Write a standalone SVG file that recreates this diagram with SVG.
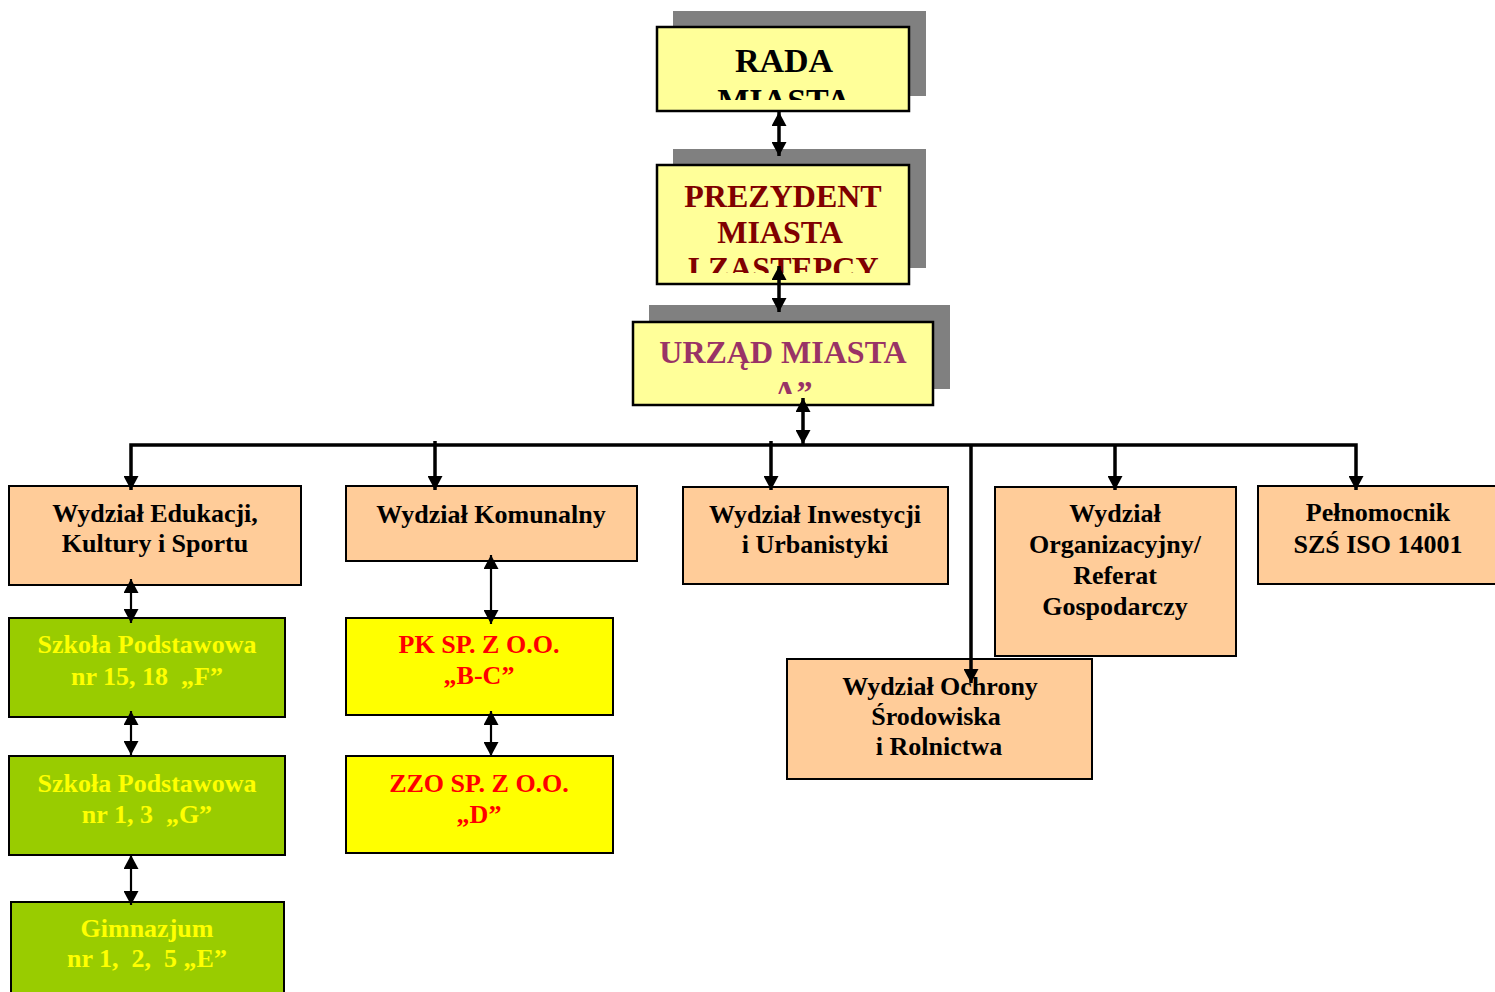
<svg xmlns="http://www.w3.org/2000/svg" width="1495" height="992" viewBox="0 0 1495 992" xml:space="preserve">
<style>
text{font-family:"Liberation Serif","Times New Roman",serif;font-weight:bold;text-anchor:middle;white-space:pre}
.shadow{fill:#808080}
.top{fill:#FFFF99;stroke:#000;stroke-width:2.5}
.dept{fill:#FFCC99;stroke:#000;stroke-width:2}
.green{fill:#99CC00;stroke:#000;stroke-width:2}
.yellow{fill:#FFFF00;stroke:#000;stroke-width:2}
.t26{font-size:26px;fill:#000}
.ty{font-size:26px;fill:#FFFF00}
.tr{font-size:26px;fill:#FF0000}
.conn{fill:none;stroke:#000}
.thick{stroke-width:3.5}
.thin{stroke-width:2.2}
</style>
<defs>
<marker id="ah" markerUnits="userSpaceOnUse" markerWidth="15" markerHeight="15" refX="14" refY="7.5" orient="auto-start-reverse" viewBox="0 0 15 15">
<path d="M0,0 L14,7.5 L0,15 z" fill="#000"/>
</marker>
<clipPath id="c1"><rect x="659" y="29" width="248" height="71"/></clipPath>
<clipPath id="c2"><rect x="659" y="167" width="248" height="106"/></clipPath>
<clipPath id="c3"><rect x="635" y="324" width="296" height="70"/></clipPath>
</defs>
<g id="rada">
<rect class="shadow" x="673" y="11" width="253" height="85"/>
<rect class="top" x="657" y="27" width="252" height="84"/>
<g clip-path="url(#c1)">
<text x="784" y="72" font-size="34" fill="#000">RADA</text>
<text x="784" y="112" font-size="34" fill="#000">MIASTA</text>
</g>
</g>
<g id="prezydent">
<rect class="shadow" x="673" y="149" width="253" height="119"/>
<rect class="top" x="657" y="165" width="252" height="119"/>
<g clip-path="url(#c2)" fill="#800000" font-size="32">
<text x="783" y="207">PREZYDENT</text>
<text x="780" y="243">MIASTA</text>
<text x="783" y="279">I ZASTĘPCY</text>
</g>
</g>
<g id="urzad">
<rect class="shadow" x="649" y="305" width="301" height="84"/>
<rect class="top" x="633" y="322" width="300" height="83"/>
<g clip-path="url(#c3)" fill="#993366" font-size="32">
<text x="783" y="363">URZĄD MIASTA</text>
<text x="785" y="403">„A”</text>
</g>
</g>
<g id="edukacji">
<rect class="dept" x="9" y="486" width="292" height="99"/>
<text class="t26" x="155" y="522">Wydział Edukacji,</text>
<text class="t26" x="155" y="552">Kultury i Sportu</text>
</g>
<g id="komunalny">
<rect class="dept" x="346" y="486" width="291" height="75"/>
<text class="t26" x="491" y="523">Wydział Komunalny</text>
</g>
<g id="inwestycji">
<rect class="dept" x="683" y="487" width="265" height="97"/>
<text class="t26" x="815" y="523">Wydział Inwestycji</text>
<text class="t26" x="815" y="553">i Urbanistyki</text>
</g>
<g id="organizacyjny">
<rect class="dept" x="995" y="487" width="241" height="169"/>
<text class="t26" x="1115" y="522">Wydział</text>
<text class="t26" x="1115" y="553">Organizacyjny/</text>
<text class="t26" x="1115" y="584">Referat</text>
<text class="t26" x="1115" y="615">Gospodarczy</text>
</g>
<g id="pelnomocnik">
<rect class="dept" x="1258" y="486" width="242" height="98"/>
<text class="t26" x="1378" y="521">Pełnomocnik</text>
<text class="t26" x="1378" y="553">SZŚ ISO 14001</text>
</g>
<g id="ochrony">
<rect class="dept" x="787" y="659" width="305" height="120"/>
<text class="t26" x="940" y="695">Wydział Ochrony</text>
<text class="t26" x="936" y="725">Środowiska</text>
<text class="t26" x="939" y="755">i Rolnictwa</text>
</g>
<g id="szkola1">
<rect class="green" x="9" y="618" width="276" height="99"/>
<text class="ty" x="147" y="653">Szkoła Podstawowa</text>
<text class="ty" x="147" y="685">nr 15, 18  „F”</text>
</g>
<g id="szkola2">
<rect class="green" x="9" y="756" width="276" height="99"/>
<text class="ty" x="147" y="792">Szkoła Podstawowa</text>
<text class="ty" x="147" y="823">nr 1, 3  „G”</text>
</g>
<g id="gimnazjum">
<rect class="green" x="11" y="902" width="273" height="100"/>
<text class="ty" x="147" y="937">Gimnazjum</text>
<text class="ty" x="147" y="967">nr 1,  2,  5 „E”</text>
</g>
<g id="pk">
<rect class="yellow" x="346" y="618" width="267" height="97"/>
<text class="tr" x="479" y="653">PK SP. Z O.O.</text>
<text class="tr" x="479" y="684">„B-C”</text>
</g>
<g id="zzo">
<rect class="yellow" x="346" y="756" width="267" height="97"/>
<text class="tr" x="479" y="792">ZZO SP. Z O.O.</text>
<text class="tr" x="479" y="823">„D”</text>
</g>
<g id="connectors">
<line class="conn thick" x1="779" y1="112" x2="779" y2="156" marker-start="url(#ah)" marker-end="url(#ah)"/>
<line class="conn thick" x1="779" y1="266" x2="779" y2="312" marker-start="url(#ah)" marker-end="url(#ah)"/>
<line class="conn thick" x1="803" y1="398" x2="803" y2="444" marker-start="url(#ah)" marker-end="url(#ah)"/>
<path class="conn thick" d="M1356,490 L1356,445 L131,445 L131,490" marker-start="url(#ah)" marker-end="url(#ah)"/>
<line class="conn thick" x1="435" y1="441" x2="435" y2="490" marker-end="url(#ah)"/>
<line class="conn thick" x1="771" y1="441" x2="771" y2="490" marker-end="url(#ah)"/>
<line class="conn thick" x1="1115" y1="444" x2="1115" y2="490" marker-end="url(#ah)"/>
<line class="conn thick" x1="971" y1="444" x2="971" y2="683" marker-end="url(#ah)"/>
<line class="conn thin" x1="131" y1="579" x2="131" y2="623" marker-start="url(#ah)" marker-end="url(#ah)"/>
<line class="conn thin" x1="131" y1="711" x2="131" y2="755" marker-start="url(#ah)" marker-end="url(#ah)"/>
<line class="conn thin" x1="131" y1="855" x2="131" y2="905" marker-start="url(#ah)" marker-end="url(#ah)"/>
<line class="conn thin" x1="491" y1="555" x2="491" y2="624" marker-start="url(#ah)" marker-end="url(#ah)"/>
<line class="conn thin" x1="491" y1="711" x2="491" y2="756" marker-start="url(#ah)" marker-end="url(#ah)"/>
</g>
</svg>
